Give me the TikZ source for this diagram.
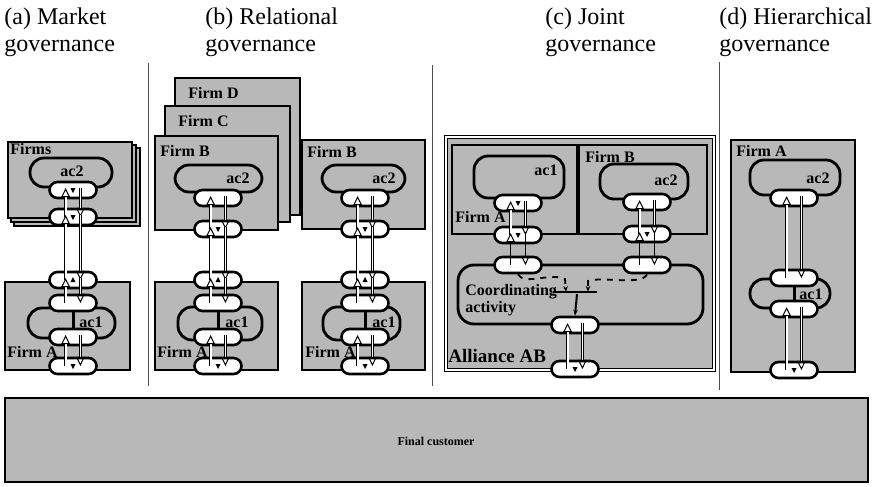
\documentclass[tikz,border=0pt]{standalone}
\usepackage{fontspec}
\setmainfont{Liberation Serif}
\usepackage{tikz}
\usetikzlibrary{arrows.meta,positioning}
\tikzset{>={Triangle[open,length=4.6pt,width=4.4pt,line width=0.5pt]}}
\newcommand{\dnmark}[1]{\fill (#1) ++(-2.5,-2) -- ++(5,0) -- ++(-2.5,5) -- cycle;}
\newcommand{\upmark}[1]{\fill (#1) ++(-2.5,2) -- ++(5,0) -- ++(-2.5,-5) -- cycle;}
\newcommand{\twoway}[3][flow]{%
  \draw[#1,->] ([xshift=-3.7pt]#3.center) -- ([xshift=-3.7pt,yshift=1pt]#2.center);
  \draw[#1,->] ([xshift=3.7pt,yshift=1pt]#2.center) -- ([xshift=3.7pt]#3.center);}

\begin{document}
\begin{tikzpicture}[x=0.5pt,y=-0.5pt,
              firm/.style={draw, line width=0.9pt, fill=black!28},
              acbox/.style={draw, line width=1.4pt, fill=black!28, rounded corners=7pt},
              pill/.style={draw, line width=1.3pt, fill=white, rounded corners=4pt,
                           minimum width=23.5pt, minimum height=8pt, inner sep=0pt},
              flow/.style={line width=0.4pt, double, double distance=0.9pt},
              link/.style={line width=0.8pt},
              inner/.style={line width=1.5pt},
              dashflow/.style={dashed, line width=0.9pt, -{Stealth[length=3pt]}},
              lbl/.style={font=\fontsize{8}{8.5}\selectfont\bfseries, inner sep=0pt},
              ttl/.style={font=\fontsize{12}{13.5}\selectfont, align=left, anchor=north west, inner sep=0pt},
              divider/.style={line width=0.5pt, black!70},
             ]
\useasboundingbox (0,0) rectangle (878,487);

\node[ttl] (ta) at (4,7) {(a) Market\\governance};
\node[ttl] (tb) at (205,7) {(b) Relational\\governance};
\node[ttl] (tc) at (545,7) {(c) Joint\\governance};
\node[ttl] (td) at (719,7) {(d) Hierarchical\\governance};

\draw[divider] (148,63) -- (148,386);
\draw[divider] (432,65) -- (432,386);
\draw[divider] (719,62) -- (719,390);

\draw[firm, line width=1.2pt] (5,398) rectangle (868,482);
\node[lbl, font=\fontsize{6}{6.5}\selectfont\bfseries] (fcust) at (436,441) {Final customer};

% (a)
\draw[firm] (14,148) rectangle (140,226);
\draw[firm] (11,145) rectangle (136,222);
\draw[firm] (8,142) rectangle (132,218);
\node[lbl, anchor=north west] (firms) at (10,143) {Firms};
\draw[acbox] (30,158) rectangle (112,187);
\node[lbl] (aac2) at (72,171) {ac2};
\draw[firm] (5,282) rectangle (130,370);
\draw[acbox] (28,308) rectangle (115,338);
\node[lbl] (aac1) at (91,322) {ac1};
\node[lbl, anchor=west] (afa) at (7,352) {Firm A};
\node[pill] (a1) at (73,190) {};
\node[pill] (a2) at (73,217) {};
\node[pill] (a3) at (73,280) {};
\node[pill] (a4) at (73,303) {};
\node[pill] (a5) at (73,337) {};
\node[pill] (a6) at (73,366) {};
\twoway{a1}{a2}
\twoway{a2}{a3}
\twoway{a3}{a4}
\twoway{a5}{a6}
\draw[inner] (a4.south) -- (a5.north);
\dnmark{a1} \dnmark{a2} \upmark{a3} \dnmark{a6}

% (b)
\draw[firm] (175,78) rectangle (300,215);
\node[lbl, anchor=west] (fd) at (188,93) {Firm D};
\draw[firm] (165,106) rectangle (290,222);
\node[lbl, anchor=west] (fc) at (178,121) {Firm C};
\draw[firm] (155,136) rectangle (278,230);
\node[lbl, anchor=west] (bfb) at (160,151) {Firm B};
\draw[acbox] (175,165) rectangle (262,192);
\node[lbl] (bac2) at (238,178) {ac2};
\draw[firm] (155,282) rectangle (278,370);
\draw[acbox] (178,307) rectangle (262,340);
\node[lbl] (bac1) at (237,322) {ac1};
\node[lbl, anchor=west] (bfa) at (157,352) {Firm A};
\node[pill] (b1) at (218,198) {};
\node[pill] (b2) at (218,229) {};
\node[pill] (b3) at (218,280) {};
\node[pill] (b4) at (218,303) {};
\node[pill] (b5) at (218,337) {};
\node[pill] (b6) at (218,366) {};
\twoway{b1}{b2}
\twoway{b2}{b3}
\twoway{b3}{b4}
\twoway{b5}{b6}
\draw[inner] (b4.south) -- (b5.north);
\dnmark{b2} \upmark{b3} \dnmark{b6}

\draw[firm] (302,140) rectangle (425,229);
\node[lbl, anchor=west] (rfb) at (307,152) {Firm B};
\draw[acbox] (322,165) rectangle (405,192);
\node[lbl] (rac2) at (384,178) {ac2};
\draw[firm] (302,282) rectangle (425,370);
\draw[acbox] (323,307) rectangle (400,340);
\node[lbl] (rac1) at (384,322) {ac1};
\node[lbl, anchor=west] (rfa) at (305,352) {Firm A};
\node[pill] (r1) at (365,198) {};
\node[pill] (r2) at (365,229) {};
\node[pill] (r3) at (365,280) {};
\node[pill] (r4) at (365,303) {};
\node[pill] (r5) at (365,337) {};
\node[pill] (r6) at (365,366) {};
\twoway{r1}{r2}
\twoway{r2}{r3}
\twoway{r3}{r4}
\twoway{r5}{r6}
\draw[inner] (r4.south) -- (r5.north);
\dnmark{r2} \upmark{r3} \dnmark{r6}

% (c)
\draw[firm, line width=0.6pt, double, double distance=0.8pt] (446,137) rectangle (714,370);
\draw[firm] (452,145) rectangle (577,234);
\draw[acbox] (474,156) rectangle (564,198);
\node[lbl] (cac1) at (546,170) {ac1};
\node[lbl, anchor=west] (cfa) at (455,217) {Firm A};
\draw[firm] (579,145) rectangle (707,234);
\draw[acbox] (600,164) rectangle (688,199);
\node[lbl] (cac2) at (666,180) {ac2};
\node[lbl, anchor=west] (cfb) at (585,157) {Firm B};
\draw[acbox, rounded corners=8pt] (458,265) rectangle (703,324);
\node[lbl, anchor=north west, align=left] (coord) at (465,284) {Coordinating\\activity};
\node[lbl, font=\fontsize{9.5}{10}\selectfont\bfseries, anchor=west] (ab) at (448,356) {Alliance AB};
\node[pill] (e1) at (518,203) {};
\node[pill] (e2) at (518,235) {};
\node[pill] (e3) at (518,265) {};
\node[pill] (f1) at (647,202) {};
\node[pill] (f2) at (647,234) {};
\node[pill] (f3) at (647,265) {};
\node[pill] (g1) at (575,325) {};
\node[pill] (g2) at (575,369) {};
\twoway{e1}{e2}
\twoway[link]{e2}{e3}
\twoway{f1}{f2}
\twoway[link]{f2}{f3}
\twoway{g1}{g2}
\dnmark{e1} \dnmark{e2} \dnmark{f2} \dnmark{g2}
\coordinate (bl) at (553,292);
\coordinate (br) at (597,292);
\coordinate (ca) at (566,292);
\coordinate (cb) at (588,292);
\coordinate (cm) at (577,294);
\draw[line width=0.9pt] (bl) -- (br);
\draw[dashflow] (e3.south) .. controls (524,286) and (550,272) .. (565,279) -- (ca);
\draw[dashflow] (f3.south) .. controls (642,286) and (602,276) .. (588,281) -- (cb);
\draw[line width=1pt, -{Stealth[length=3pt]}] (cm) -- (g1.north);

% (d)
\draw[firm] (731,140) rectangle (855,372);
\node[lbl, anchor=west] (dfa) at (736,151) {Firm A};
\draw[acbox] (750,160) rectangle (840,195);
\node[lbl] (dac2) at (818,178) {ac2};
\draw[acbox] (750,279) rectangle (830,308);
\node[lbl] (dac1) at (811,294) {ac1};
\node[pill] (h1) at (794,198) {};
\node[pill] (h2) at (794,278) {};
\node[pill] (h3) at (794,309) {};
\node[pill] (h4) at (794,370) {};
\twoway{h1}{h2}
\twoway{h3}{h4}
\draw[inner] (h2.south) -- (h3.north);
\dnmark{h4}
\end{tikzpicture}
\end{document}
